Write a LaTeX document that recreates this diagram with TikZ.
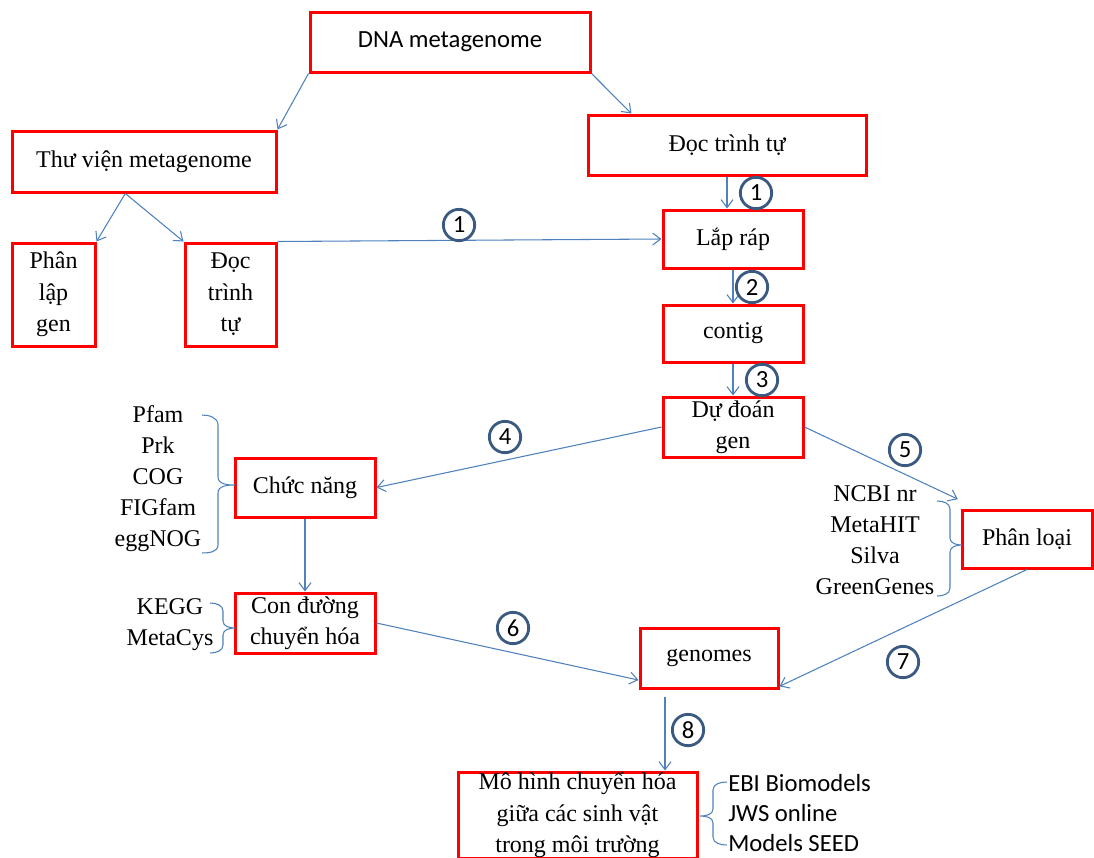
\documentclass[tikz,border=0pt]{standalone}
\usepackage{fontspec}
\setmainfont{Liberation Serif}
\newfontfamily\calibrifont{Carlito}
\usetikzlibrary{arrows.meta,calc}
\definecolor{boxred}{HTML}{FF0000}
\definecolor{arr}{HTML}{4F81BD}
\definecolor{circ}{HTML}{3B5A82}
\begin{document}
\begin{tikzpicture}[x=0.75pt,y=-0.75pt,
 box/.style={draw=boxred,line width=2.25pt,inner sep=0pt,align=center,font=\fontsize{18}{23.6}\selectfont},
 conn/.style={draw=arr,line width=0.8pt,-{Straight Barb[length=6pt,width=9pt]}},
 num/.style={circle,draw=circ,line width=2.1pt,fill=white,minimum size=23.5pt,inner sep=0pt,font=\calibrifont\fontsize{18.5}{18.5}\selectfont},
 lst/.style={align=center,inner sep=0pt,font=\fontsize{18}{23.25}\selectfont},
 brc/.style={draw=arr,line width=0.8pt}]
\useasboundingbox (0,0) rectangle (1094,857);
\clip (0,0) rectangle (1094,857);
% boxes
\node[box,minimum width=210pt,minimum height=45pt,font=\calibrifont\fontsize{18.5}{22}\selectfont] (dna) at (450,42) {DNA metagenome};
\node[box,minimum width=198pt,minimum height=45.75pt] (thu) at (144,161.5) {Thư viện metagenome};
\node[box,minimum width=208.5pt,minimum height=45pt] (docR) at (727,145) {Đọc trình tự};
\node[box,minimum width=62.25pt,minimum height=77.25pt] (phan) at (53.5,294.5) {Phân\\lập\\gen};
\node[box,minimum width=68.25pt,minimum height=77.25pt] (docL) at (230.5,294.5) {Đọc\\trình\\tự};
\node[box,minimum width=105pt,minimum height=43.5pt] (lap) at (733,239) {Lắp ráp};
\node[box,minimum width=105pt,minimum height=42.75pt] (contig) at (733,333.5) {contig};
\node[box,minimum width=105pt,minimum height=45pt] (dudoan) at (733,427) {Dự đoán\\gen};
\node[box,minimum width=105pt,minimum height=44.25pt] (chuc) at (305,487.5) {Chức năng};
\node[box,minimum width=105pt,minimum height=45pt] (con) at (305,623) {Con đường\\chuyển hóa};
\node[box,minimum width=97.5pt,minimum height=43.5pt] (ploai) at (1027,539) {Phân loại};
\node[box,minimum width=103.5pt,minimum height=45pt] (gen) at (709,658) {genomes};
\node[box,minimum width=179.25pt,minimum height=64.5pt] (mo) at (577.5,815) {Mô hình chuyển hóa\\giữa các sinh vật\\trong môi trường};
% lists
\node[lst] (pf) at (158,479) {Pfam\\Prk\\COG\\FIGfam\\eggNOG};
\node[lst] (kegg) at (170,625) {KEGG\\MetaCys};
\node[lst] (ncbi) at (875,540) {NCBI nr\\MetaHIT\\Silva\\GreenGenes};
\node[lst,align=left,anchor=west,font=\calibrifont\fontsize{18.5}{22.5}\selectfont] (ebi) at (728,813) {EBI Biomodels\\JWS online\\Models SEED};
% connectors
\draw[conn] (dna.south west) -- (thu.north east);
\draw[conn] (dna.south east) -- ($(docR.north west)!0.16!(docR.north east)$);
\coordinate (thub) at ($(thu.south west)!0.43!(thu.south east)$);
\draw[conn] (thub) -- (phan.north east);
\draw[conn] (thub) -- (docL.north west);
\draw[conn] (docL.north east) -- (lap.west);
\draw[conn] (docR.south) -- (docR.south |- lap.north);
\draw[conn] (lap.south) -- (contig.north);
\draw[conn] (contig.south) -- (dudoan.north);
\draw[conn] (dudoan.west) -- (chuc.east);
\draw[conn] (dudoan.east) -- ([xshift=-2pt,yshift=7pt]ploai.north west);
\draw[conn] (chuc.south) -- (con.north);
\draw[conn] (con.east) -- ($(gen.west)!0.7!(gen.south west)$);
\draw[conn] (ploai.south) -- ($(gen.east)!0.9!(gen.south east)$);
\coordinate (g8) at (665,697);
\draw[conn] (g8) -- (g8 |- mo.north);
% braces
\draw[brc] (202,415) to[out=0,in=90] (218,425) -- (218,477) to[out=-90,in=180] (235,485) to[out=180,in=90] (218,493) -- (218,545) to[out=-90,in=0] (202,553);
\draw[brc] (210,603) to[out=0,in=90] (223,611) -- (223,621) to[out=-90,in=180] (235,628) to[out=180,in=90] (223,635) -- (223,645) to[out=-90,in=0] (210,653);
\draw[brc] (937,501) to[out=0,in=90] (950,509) -- (950,538) to[out=-90,in=180] (962,545) to[out=180,in=90] (950,552) -- (950,588) to[out=-90,in=0] (937,596);
\draw[brc] (727,782) to[out=180,in=90] (713,790) -- (713,809) to[out=-90,in=0] (700,816) to[out=0,in=90] (713,823) -- (713,837) to[out=-90,in=180] (727,845);
% step numbers
\node[num] (n1a) at (459,225) {1};
\node[num] (n1b) at (756,193) {1};
\node[num] (n2) at (752,287) {2};
\node[num] (n3) at (762,380) {3};
\node[num] (n4) at (505,437) {4};
\node[num] (n5) at (905,450) {5};
\node[num] (n6) at (513,628) {6};
\node[num] (n7) at (903,662) {7};
\node[num] (n8) at (688,730) {8};
\end{tikzpicture}
\end{document}
